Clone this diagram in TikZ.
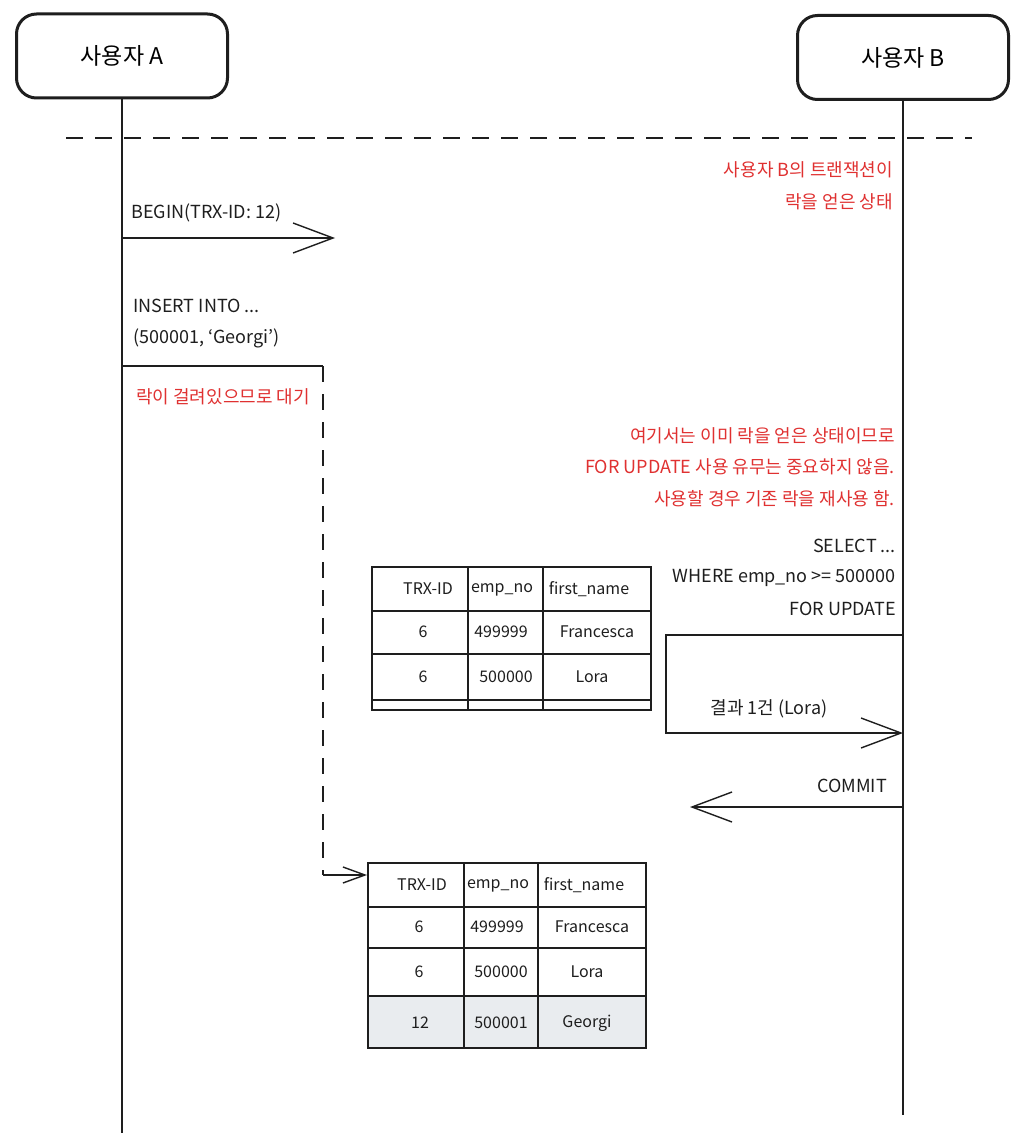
\documentclass[tikz,border=0pt]{standalone}
\usepackage{fontspec}
\setmainfont{Noto Sans CJK KR}
\usetikzlibrary{arrows.meta}
\definecolor{redtxt}{HTML}{E03131}
\definecolor{grayfill}{HTML}{E9ECEF}
\definecolor{ink}{HTML}{1E1E1E}
\begin{document}
\begin{tikzpicture}[x=1pt,y=-1pt,
  actor/.style={draw=ink, line width=3pt, rounded corners=20pt, minimum width=211pt, minimum height=84pt, font=\fontsize{23}{27}\selectfont},
  lifeline/.style={draw=ink, line width=1.4pt},
  note/.style={text=redtxt, font=\fontsize{18}{21}\selectfont, inner sep=0pt},
  msg/.style={text=ink, font=\fontsize{18}{21}\selectfont, inner sep=0pt},
  cell/.style={text=ink, font=\fontsize{16}{19}\selectfont, inner sep=0pt},
  bigtip/.style={draw=ink, line width=1.4pt, -{Straight Barb[length=40pt,width=30pt,line width=1.4pt]}},
  smalltip/.style={draw=ink, line width=1.4pt, -{Straight Barb[length=22pt,width=16pt,line width=1.4pt]}},
  outer/.style={draw=ink, line width=2pt},
  inner/.style={draw=ink, line width=1.2pt},
]
\useasboundingbox (0,0) rectangle (1024,1147);
\fill[white] (0,0) rectangle (1024,1147);

% actors
\node[actor] (A) at (122,56) {사용자 A};
\node[actor] (B) at (903,57.5) {사용자 B};
\coordinate (Aend) at (122,1133);
\coordinate (Bend) at (903,1115);
\draw[lifeline] (A.south) -- (Aend);
\draw[lifeline] (B.south) -- (Bend);

% separator
\coordinate (sepL) at (66,138);
\coordinate (sepR) at (972,138);
\draw[draw=ink, line width=1.4pt, dash pattern=on 17pt off 12pt] (sepL) -- (sepR);

% note B
\node[note, anchor=east] (nB1) at (893,170) {사용자 B의 트랜잭션이};
\node[note, anchor=east] (nB2) at (893,202) {락을 얻은 상태};

% BEGIN
\node[msg, anchor=west] (begin) at (131,213) {BEGIN(TRX-ID: 12)};
\coordinate (b0) at (122,238);
\coordinate (b1) at (335,238);
\draw[bigtip] (b0) -- (b1);

% INSERT
\node[msg, anchor=west] (ins1) at (133,306) {INSERT INTO ...};
\node[msg, anchor=west] (ins2) at (133,338) {(500001, `Georgi')};
\coordinate (w0) at (122,366);
\coordinate (w1) at (323,366);
\coordinate (w2) at (323,875);
\coordinate (w3) at (367,875);
\draw[draw=ink, line width=1.4pt] (w0) -- (w1);
\draw[draw=ink, line width=2.6pt, dash pattern=on 16pt off 12pt] (w1) -- (w2);
\draw[smalltip] (w2) -- (w3);
\node[note, anchor=west] (wait) at (136,397) {락이 걸려있으므로 대기};

% note 2
\node[note, anchor=east] (n1) at (895,436) {여기서는 이미 락을 얻은 상태이므로};
\node[note, anchor=east] (n2) at (895,467) {FOR UPDATE 사용 유무는 중요하지 않음.};
\node[note, anchor=east] (n3) at (895,499) {사용할 경우 기존 락을 재사용 함.};

% SELECT
\node[msg, anchor=east] (sel1) at (896,546) {SELECT ...};
\node[msg, anchor=east] (sel2) at (896,578) {WHERE emp\_no >= 500000};
\node[msg, anchor=east] (sel3) at (896,609) {FOR UPDATE};
\coordinate (s0) at (903,635);
\coordinate (s1) at (666,635);
\coordinate (s2) at (666,733);
\coordinate (s3) at (903,733);
\draw[bigtip] (s0) -- (s1) -- (s2) -- (s3);
\node[msg] (res) at (769,709) {결과 1건 (Lora)};

% COMMIT
\node[msg] (commit) at (852,786) {COMMIT};
\coordinate (c0) at (902,807);
\coordinate (c1) at (690,807);
\draw[bigtip] (c0) -- (c1);

% table 1
\draw[inner] (372,611) -- (651,611) (372,654) -- (651,654) (372,700) -- (651,700)
             (468,567) -- (468,710) (543,567) -- (543,710);
\draw[outer] (372,567) rectangle (651,710);
\node[cell] (t1h1) at (428,589) {TRX-ID};
\node[cell] (t1h2) at (502,590) {emp\_no};
\node[cell] (t1h3) at (589,589) {first\_name};
\node[cell] (t1a1) at (423,632) {6};
\node[cell] (t1a2) at (501,632) {499999};
\node[cell] (t1a3) at (597,632) {Francesca};
\node[cell] (t1b1) at (423,677) {6};
\node[cell] (t1b2) at (506,677) {500000};
\node[cell] (t1b3) at (592,677) {Lora};

% table 2
\fill[grayfill] (368,996) rectangle (646,1048);
\draw[inner] (368,907) -- (646,907) (368,948) -- (646,948) (368,996) -- (646,996)
             (464,863) -- (464,1048) (538,863) -- (538,1048);
\draw[outer] (368,863) rectangle (646,1048);
\node[cell] (t2h1) at (422,885) {TRX-ID};
\node[cell] (t2h2) at (498,886) {emp\_no};
\node[cell] (t2h3) at (584,885) {first\_name};
\node[cell] (t2a1) at (419,927) {6};
\node[cell] (t2a2) at (497,927) {499999};
\node[cell] (t2a3) at (592,927) {Francesca};
\node[cell] (t2b1) at (419,972) {6};
\node[cell] (t2b2) at (501,972) {500000};
\node[cell] (t2b3) at (587,972) {Lora};
\node[cell] (t2c1) at (420,1023) {12};
\node[cell] (t2c2) at (501,1023) {500001};
\node[cell] (t2c3) at (587,1023) {Georgi};
\end{tikzpicture}
\end{document}
